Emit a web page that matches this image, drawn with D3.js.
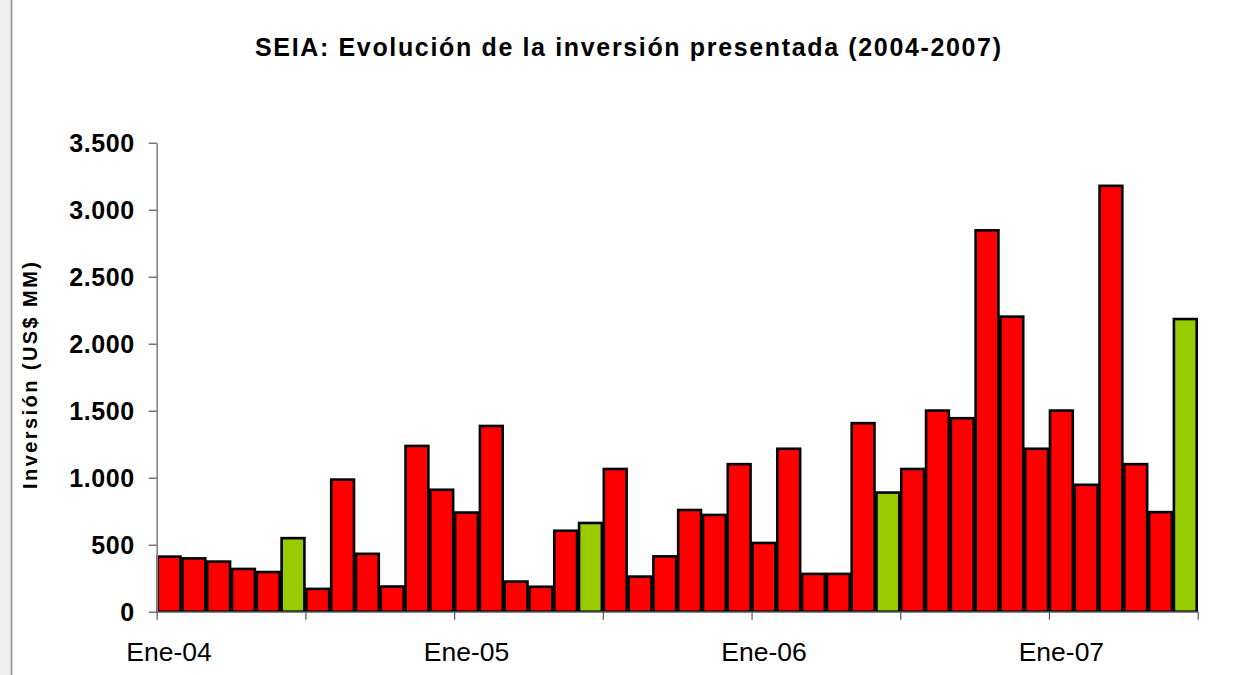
<!DOCTYPE html>
<html>
<head>
<meta charset="utf-8">
<script src="https://cdn.jsdelivr.net/npm/d3@7"></script>
<style>
  html, body { margin: 0; padding: 0; background: #ffffff; }
  svg { display: block; }
</style>
</head>
<body>
<script>
// ---- Data ----
const title = "SEIA: Evolución de la inversión presentada (2004-2007)";
const yTitle = "Inversión (US$ MM)";
const months = [
  "Ene-04","Feb-04","Mar-04","Abr-04","May-04","Jun-04","Jul-04","Ago-04","Sep-04","Oct-04","Nov-04","Dic-04",
  "Ene-05","Feb-05","Mar-05","Abr-05","May-05","Jun-05","Jul-05","Ago-05","Sep-05","Oct-05","Nov-05","Dic-05",
  "Ene-06","Feb-06","Mar-06","Abr-06","May-06","Jun-06","Jul-06","Ago-06","Sep-06","Oct-06","Nov-06","Dic-06",
  "Ene-07","Feb-07","Mar-07","Abr-07","May-07","Jun-07"
];
const investment = [
  411, 398, 374, 319, 296, 549, 170, 986, 432, 188, 1237, 910,
  740, 1386, 225, 186, 604, 662, 1065, 262, 413, 759, 722, 1101,
  513, 1216, 282, 282, 1407, 889, 1065, 1501, 1444, 2846, 2202, 1216,
  1501, 947, 3178, 1101, 743, 2184
];
const highlighted = ["Jun-04", "Jun-05", "Jun-06", "Jun-07"];
const xLabels = ["Ene-04", "Ene-05", "Ene-06", "Ene-07"];
const yTicks = [0, 500, 1000, 1500, 2000, 2500, 3000, 3500];
const boundaryTicks = [0, 6, 12, 18, 24, 30, 36, 42];

// ---- Layout ----
const W = 1233, H = 675;
const x0 = 156.7, x1 = 1197.7, yBase = 611.7, yTop = 142.7;
const FONT = "'Liberation Sans', Arial, Helvetica, sans-serif";

const svg = d3.select("body").append("svg").attr("width", W).attr("height", H);

// background frame
svg.append("rect").attr("x", 0).attr("y", 0).attr("width", 11).attr("height", H).attr("fill", "#efefef");
svg.append("line").attr("x1", 11.5).attr("x2", 11.5).attr("y1", 0).attr("y2", H)
  .attr("stroke", "#8c8c8c").attr("stroke-width", 1.5);

const x = d3.scaleBand().domain(months).range([x0, x1]).paddingInner(0.08).paddingOuter(0.04);
const xIdx = d3.scaleLinear().domain([0, months.length]).range([x0, x1]);
const y = d3.scaleLinear().domain([0, 3500]).range([yBase, yTop]);

const loc = d3.formatLocale({ decimal: ",", thousands: ".", grouping: [3], currency: ["$", ""] });
const fmt = loc.format(",");

// bars
svg.append("g").selectAll("rect").data(months).join("rect")
  .attr("x", d => x(d))
  .attr("y", (d, i) => y(investment[i]))
  .attr("width", x.bandwidth())
  .attr("height", (d, i) => yBase - y(investment[i]))
  .attr("fill", d => highlighted.includes(d) ? "#99cc00" : "#ff0000")
  .attr("stroke", "#000")
  .attr("stroke-width", 2.6);

// y axis
const gy = svg.append("g").attr("transform", `translate(${x0},0)`)
  .call(d3.axisLeft(y).tickValues(yTicks).tickSize(8).tickSizeOuter(0).tickPadding(14).tickFormat(fmt));
gy.select(".domain").attr("stroke", "#858585").attr("stroke-width", 1.6);
gy.selectAll(".tick line").attr("stroke", "#555").attr("stroke-width", 1.2);
gy.selectAll(".tick text")
  .attr("font-family", FONT).attr("font-weight", "bold").attr("font-size", 25)
  .attr("letter-spacing", "0.6px").attr("fill", "#000").attr("dy", "0.36em");

// x axis boundary ticks
const gx = svg.append("g").attr("transform", `translate(0,${yBase})`)
  .call(d3.axisBottom(xIdx).tickValues(boundaryTicks).tickSize(8).tickSizeOuter(0).tickFormat(""));
gx.select(".domain").attr("stroke", "#858585").attr("stroke-width", 1.6);
gx.selectAll(".tick line").attr("stroke", "#555").attr("stroke-width", 1.2);

// x labels centered on January bars
const gxl = svg.append("g").attr("transform", `translate(0,${yBase})`)
  .call(d3.axisBottom(x).tickValues(xLabels).tickSize(0).tickSizeOuter(0));
gxl.select(".domain").remove();
gxl.selectAll(".tick text")
  .attr("font-family", FONT).attr("font-size", 26.5).attr("fill", "#000")
  .attr("y", 49.5).attr("dy", 0);

// title
svg.append("text")
  .attr("x", 628).attr("y", 56)
  .attr("text-anchor", "middle")
  .attr("font-family", FONT).attr("font-weight", "bold").attr("font-size", 25)
  .attr("textLength", 746).attr("lengthAdjust", "spacing")
  .attr("fill", "#000")
  .text(title);

// y axis title
svg.append("text")
  .attr("transform", "translate(37,375.5) rotate(-90)")
  .attr("text-anchor", "middle")
  .attr("font-family", FONT).attr("font-weight", "bold").attr("font-size", 20)
  .attr("textLength", 227).attr("lengthAdjust", "spacing")
  .attr("fill", "#000")
  .text(yTitle);
</script>
</body>
</html>
